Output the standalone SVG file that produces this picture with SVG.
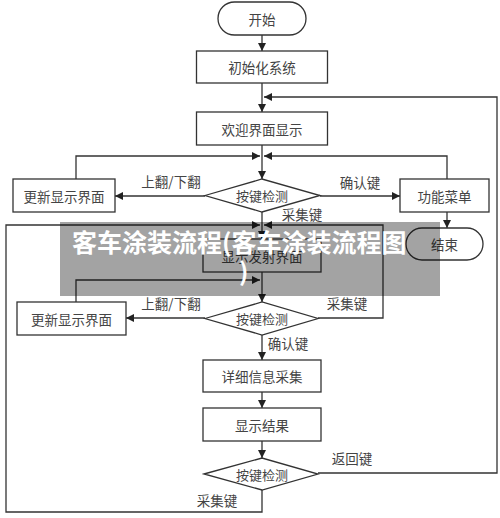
<svg xmlns="http://www.w3.org/2000/svg" width="500" height="518" viewBox="0 0 500 518">
<style>
.n{fill:#fff;stroke:#333;stroke-width:1.3}
.t{font-family:"Noto Sans CJK SC","Noto Sans",sans-serif;font-size:13.5px;fill:#444;text-anchor:middle;dominant-baseline:central}
.d{font-size:13px}
.c{fill:none;stroke:#333;stroke-width:1.3}
.b{font-family:"Noto Sans CJK SC","Noto Sans",sans-serif;font-size:25px;font-weight:bold;fill:#fff}
</style>
<defs>
<marker id="ah" markerUnits="userSpaceOnUse" markerWidth="10" markerHeight="10" refX="8" refY="4" orient="auto">
<path d="M0,0 L8,4 L0,8 Z" fill="#222"/>
</marker>
</defs>
<rect width="500" height="518" fill="#fff"/>
<g id="connectors">
<path class="c" d="M262 35 V51" marker-end="url(#ah)"/>
<path class="c" d="M262 83 V112" marker-end="url(#ah)"/>
<path class="c" d="M318 473 H497 V97 H264" marker-end="url(#ah)"/>
<path class="c" d="M262 145 V179" marker-end="url(#ah)"/>
<path class="c" d="M76 179 V156 H260" marker-end="url(#ah)"/>
<path class="c" d="M447 179 V156 H264" marker-end="url(#ah)"/>
<path class="c" d="M205 196 H115" marker-end="url(#ah)"/>
<path class="c" d="M320 196 H400" marker-end="url(#ah)"/>
<path class="c" d="M447 212 V228" marker-end="url(#ah)"/>
<path class="c" d="M262 212 V239" marker-end="url(#ah)"/>
<path class="c" d="M262 490 V512 H6 V225 H260" marker-end="url(#ah)"/>
<path class="c" d="M318 318 H383 V225 H264" marker-end="url(#ah)"/>
<path class="c" d="M262 272 V302" marker-end="url(#ah)"/>
<path class="c" d="M76 302 V280 H260" marker-end="url(#ah)"/>
<path class="c" d="M205 318 H126" marker-end="url(#ah)"/>
<path class="c" d="M262 335 V360" marker-end="url(#ah)"/>
<path class="c" d="M262 392 V408" marker-end="url(#ah)"/>
<path class="c" d="M262 441 V458" marker-end="url(#ah)"/>
<text class="t" x="171" y="181">上翻/下翻</text>
<text class="t" x="360" y="182">确认键</text>
<text class="t" x="302" y="214">采集键</text>
<text class="t" x="171" y="303">上翻/下翻</text>
<text class="t" x="347" y="303">采集键</text>
<text class="t" x="288" y="343">确认键</text>
<text class="t" x="352" y="458">返回键</text>
<text class="t" x="217" y="500">采集键</text>
</g>
<g id="start"><rect class="n" x="218" y="2" width="88" height="33" rx="16.5"/><text class="t" x="262" y="18.5">开始</text></g>
<g id="init"><rect class="n" x="196.5" y="51" width="131" height="32"/><text class="t" x="262" y="67">初始化系统</text></g>
<g id="welcome"><rect class="n" x="196.5" y="112" width="131" height="33"/><text class="t" x="262" y="128.5">欢迎界面显示</text></g>
<g id="update1"><rect class="n" x="13" y="179" width="102" height="33"/><text class="t" x="64" y="195.5">更新显示界面</text></g>
<g id="key1"><polygon class="n" points="205,195.5 262,179 320,195.5 262,212"/><text class="t d" x="262" y="195.5">按键检测</text></g>
<g id="menu"><rect class="n" x="400" y="179" width="89" height="33"/><text class="t" x="444.5" y="195.5">功能菜单</text></g>
<g id="end"><rect class="n" x="406" y="228" width="77" height="32" rx="16"/><text class="t" x="444.5" y="244">结束</text></g>
<g id="emit"><rect class="n" x="203" y="239" width="118" height="33"/><text class="t" x="262" y="255.5">显示发射界面</text></g>
<g id="update2"><rect class="n" x="17" y="302" width="109" height="33"/><text class="t" x="71.5" y="318.5">更新显示界面</text></g>
<g id="key2"><polygon class="n" points="205,318.5 262,302 318,318.5 262,335"/><text class="t d" x="262" y="318.5">按键检测</text></g>
<g id="collect"><rect class="n" x="203" y="360" width="118" height="32"/><text class="t" x="262" y="376">详细信息采集</text></g>
<g id="result"><rect class="n" x="203" y="408" width="118" height="33"/><text class="t" x="262" y="424.5">显示结果</text></g>
<g id="key3"><polygon class="n" points="204,474 262,458 318,474 262,490"/><text class="t d" x="262" y="474">按键检测</text></g>
<g id="banner">
<rect x="60" y="222" width="380" height="74" fill="#000" opacity="0.36"/>
<text class="b" x="72" y="252">客车涂装流程(客车涂装流程图</text>
<text class="b" x="239" y="281">)</text>
</g>
</svg>
